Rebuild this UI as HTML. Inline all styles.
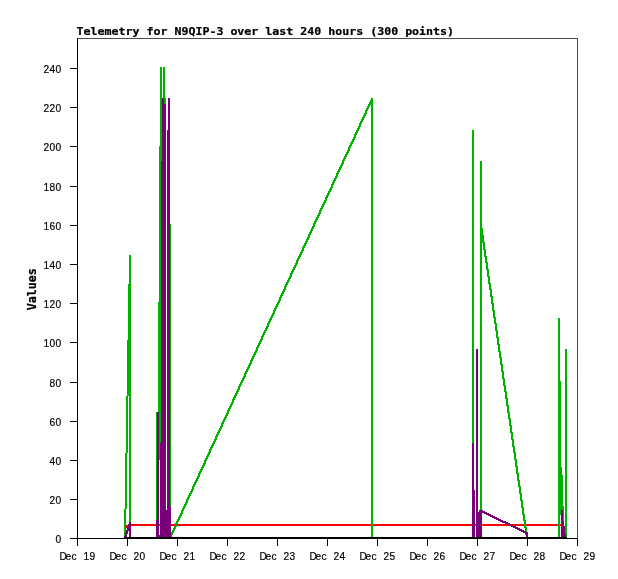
<!DOCTYPE html>
<html>
<head>
<meta charset="utf-8">
<title>Telemetry for N9QIP-3</title>
<style>
html, body { margin: 0; padding: 0; background: #ffffff; }
body { width: 618px; height: 579px; overflow: hidden; }
svg { display: block; }
text { fill: #000; white-space: pre; }
.s { font-family: "Liberation Sans", "DejaVu Sans", sans-serif; font-size: 10.2px; stroke: #000; stroke-width: 0.18px; }
.b { font-family: "DejaVu Sans Mono", "Liberation Mono", monospace; font-size: 11.63px; font-weight: bold; stroke: #000; stroke-width: 0.25px; }
</style>
</head>
<body>
<svg width="618" height="579" viewBox="0 0 618 579">
<rect x="0" y="0" width="618" height="579" fill="#ffffff"/>
<g shape-rendering="crispEdges">
<path fill="#ff0000" d="M131 524h25v2h-25zM159 524h1v2h-1zM171 524h4v2h-4zM177 524h194v2h-194zM373 524h99v2h-99zM475 524h1v2h-1zM482 524h25v1h-25zM512 524h12v1h-12zM526 524h32v2h-32zM560 524h1v2h-1zM126 525h2v2h-2zM482 525h27v1h-27zM514 525h10v1h-10zM126 527h1v1h-1z"/>
<path fill="#00b200" d="M160 67h2v79h-2zM163 67h2v31h-2zM164 98h2v6h-2zM371 98h2v2h-2zM370 100h3v2h-3zM369 102h4v2h-4zM368 104h5v1h-5zM368 105h2v1h-2zM371 105h2v432h-2zM367 106h3v1h-3zM367 107h2v1h-2zM366 108h3v1h-3zM366 109h2v1h-2zM365 110h3v1h-3zM365 111h2v2h-2zM364 113h3v1h-3zM364 114h2v1h-2zM363 115h3v1h-3zM363 116h2v1h-2zM362 117h3v1h-3zM362 118h2v1h-2zM361 119h3v1h-3zM361 120h2v1h-2zM360 121h3v1h-3zM360 122h2v1h-2zM359 123h3v1h-3zM359 124h2v2h-2zM358 126h3v1h-3zM358 127h2v1h-2zM357 128h3v1h-3zM357 129h2v1h-2zM356 130h3v1h-3zM472 130h2v313h-2zM356 131h2v1h-2zM355 132h3v1h-3zM355 133h2v1h-2zM354 134h3v1h-3zM354 135h2v2h-2zM353 137h3v1h-3zM353 138h2v1h-2zM352 139h3v1h-3zM352 140h2v1h-2zM351 141h3v1h-3zM351 142h2v1h-2zM350 143h3v1h-3zM350 144h2v1h-2zM349 145h3v1h-3zM159 146h3v15h-3zM349 146h2v1h-2zM348 147h3v1h-3zM348 148h2v2h-2zM347 150h3v1h-3zM347 151h2v1h-2zM346 152h3v1h-3zM346 153h2v1h-2zM345 154h3v1h-3zM345 155h2v1h-2zM344 156h3v1h-3zM344 157h2v1h-2zM343 158h3v1h-3zM343 159h2v1h-2zM342 160h3v1h-3zM159 161h2v141h-2zM342 161h2v2h-2zM480 161h2v67h-2zM341 163h3v1h-3zM341 164h2v1h-2zM340 165h3v1h-3zM340 166h2v1h-2zM339 167h3v1h-3zM339 168h2v1h-2zM338 169h3v1h-3zM338 170h2v1h-2zM337 171h3v1h-3zM337 172h2v1h-2zM336 173h3v1h-3zM336 174h2v2h-2zM335 176h3v1h-3zM335 177h2v1h-2zM334 178h3v1h-3zM334 179h2v1h-2zM333 180h3v1h-3zM333 181h2v1h-2zM332 182h3v1h-3zM332 183h2v1h-2zM331 184h3v1h-3zM331 185h2v2h-2zM330 187h3v1h-3zM330 188h2v1h-2zM329 189h3v1h-3zM329 190h2v1h-2zM328 191h3v1h-3zM328 192h2v1h-2zM327 193h3v1h-3zM327 194h2v1h-2zM326 195h3v1h-3zM326 196h2v1h-2zM325 197h3v1h-3zM325 198h2v2h-2zM324 200h3v1h-3zM324 201h2v1h-2zM323 202h3v1h-3zM323 203h2v1h-2zM322 204h3v1h-3zM322 205h2v1h-2zM321 206h3v1h-3zM321 207h2v1h-2zM320 208h3v1h-3zM320 209h2v1h-2zM319 210h3v1h-3zM319 211h2v2h-2zM318 213h3v1h-3zM318 214h2v1h-2zM317 215h3v1h-3zM317 216h2v1h-2zM316 217h3v1h-3zM316 218h2v1h-2zM315 219h3v1h-3zM315 220h2v1h-2zM314 221h3v1h-3zM314 222h2v1h-2zM313 223h3v1h-3zM170 224h1v282h-1zM313 224h2v2h-2zM312 226h3v1h-3zM312 227h2v1h-2zM311 228h3v1h-3zM480 228h3v7h-3zM311 229h2v1h-2zM310 230h3v1h-3zM310 231h2v1h-2zM309 232h3v1h-3zM309 233h2v1h-2zM308 234h3v1h-3zM308 235h2v2h-2zM480 235h4v7h-4zM307 237h3v1h-3zM307 238h2v1h-2zM306 239h3v1h-3zM306 240h2v1h-2zM305 241h3v1h-3zM305 242h2v1h-2zM480 242h5v1h-5zM304 243h3v1h-3zM480 243h2v267h-2zM483 243h2v6h-2zM304 244h2v1h-2zM303 245h3v1h-3zM303 246h2v1h-2zM302 247h3v1h-3zM302 248h2v2h-2zM483 249h3v1h-3zM301 250h3v1h-3zM484 250h2v6h-2zM301 251h2v1h-2zM300 252h3v1h-3zM300 253h2v1h-2zM299 254h3v1h-3zM129 255h2v29h-2zM299 255h2v1h-2zM298 256h3v1h-3zM484 256h3v1h-3zM298 257h2v1h-2zM485 257h2v5h-2zM297 258h3v1h-3zM297 259h2v1h-2zM296 260h3v1h-3zM296 261h2v2h-2zM485 262h3v1h-3zM295 263h3v1h-3zM486 263h2v6h-2zM295 264h2v1h-2zM294 265h3v1h-3zM294 266h2v1h-2zM293 267h3v1h-3zM293 268h2v1h-2zM292 269h3v1h-3zM486 269h3v1h-3zM292 270h2v1h-2zM487 270h2v6h-2zM291 271h3v1h-3zM291 272h2v1h-2zM290 273h3v1h-3zM290 274h2v2h-2zM289 276h3v1h-3zM487 276h3v1h-3zM289 277h2v1h-2zM488 277h2v6h-2zM288 278h3v1h-3zM288 279h2v1h-2zM287 280h3v1h-3zM287 281h2v1h-2zM286 282h3v1h-3zM286 283h2v1h-2zM488 283h3v1h-3zM128 284h3v56h-3zM285 284h3v1h-3zM489 284h2v5h-2zM285 285h2v1h-2zM284 286h3v1h-3zM284 287h2v2h-2zM283 289h3v1h-3zM489 289h3v1h-3zM283 290h2v1h-2zM490 290h2v6h-2zM282 291h3v1h-3zM282 292h2v1h-2zM281 293h3v1h-3zM281 294h2v1h-2zM280 295h3v1h-3zM280 296h2v1h-2zM490 296h3v1h-3zM279 297h3v1h-3zM491 297h2v6h-2zM279 298h2v2h-2zM278 300h3v1h-3zM278 301h2v1h-2zM158 302h3v110h-3zM277 302h3v1h-3zM277 303h2v1h-2zM491 303h3v1h-3zM276 304h3v1h-3zM492 304h2v6h-2zM276 305h2v1h-2zM275 306h3v1h-3zM275 307h2v1h-2zM274 308h3v1h-3zM274 309h2v1h-2zM273 310h3v1h-3zM492 310h3v1h-3zM273 311h2v2h-2zM493 311h2v6h-2zM272 313h3v1h-3zM272 314h2v1h-2zM271 315h3v1h-3zM271 316h2v1h-2zM270 317h3v1h-3zM493 317h3v1h-3zM270 318h2v1h-2zM494 318h2v5h-2zM558 318h2v63h-2zM269 319h3v1h-3zM269 320h2v1h-2zM268 321h3v1h-3zM268 322h2v1h-2zM267 323h3v1h-3zM494 323h3v1h-3zM267 324h2v2h-2zM495 324h2v6h-2zM266 326h3v1h-3zM266 327h2v1h-2zM265 328h3v1h-3zM265 329h2v1h-2zM264 330h3v1h-3zM495 330h3v1h-3zM264 331h2v1h-2zM496 331h2v6h-2zM263 332h3v1h-3zM263 333h2v1h-2zM262 334h3v1h-3zM262 335h2v1h-2zM261 336h3v1h-3zM261 337h2v2h-2zM496 337h3v1h-3zM497 338h2v6h-2zM260 339h3v1h-3zM127 340h4v56h-4zM260 340h2v1h-2zM259 341h3v1h-3zM259 342h2v1h-2zM258 343h3v1h-3zM258 344h2v1h-2zM497 344h3v1h-3zM257 345h3v1h-3zM498 345h2v6h-2zM257 346h2v1h-2zM256 347h3v1h-3zM256 348h2v2h-2zM565 349h2v185h-2zM255 350h3v1h-3zM255 351h2v1h-2zM498 351h3v1h-3zM254 352h3v1h-3zM499 352h2v5h-2zM254 353h2v1h-2zM253 354h3v1h-3zM253 355h2v1h-2zM252 356h3v1h-3zM252 357h2v1h-2zM499 357h3v1h-3zM251 358h3v1h-3zM500 358h2v6h-2zM251 359h2v1h-2zM250 360h3v1h-3zM250 361h2v2h-2zM249 363h3v1h-3zM249 364h2v1h-2zM500 364h3v1h-3zM248 365h3v1h-3zM501 365h2v6h-2zM248 366h2v1h-2zM247 367h3v1h-3zM247 368h2v1h-2zM246 369h3v1h-3zM246 370h2v1h-2zM245 371h3v1h-3zM501 371h3v1h-3zM245 372h2v1h-2zM502 372h2v6h-2zM244 373h3v1h-3zM244 374h2v2h-2zM243 376h3v1h-3zM243 377h2v1h-2zM242 378h3v1h-3zM502 378h3v1h-3zM242 379h2v1h-2zM503 379h2v6h-2zM241 380h3v1h-3zM241 381h2v1h-2zM558 381h3v86h-3zM240 382h3v1h-3zM240 383h2v1h-2zM239 384h3v1h-3zM239 385h2v1h-2zM503 385h3v1h-3zM238 386h3v1h-3zM504 386h2v5h-2zM238 387h2v2h-2zM237 389h3v1h-3zM237 390h2v1h-2zM236 391h3v1h-3zM504 391h3v1h-3zM236 392h2v1h-2zM505 392h2v6h-2zM235 393h3v1h-3zM235 394h2v1h-2zM234 395h3v1h-3zM126 396h2v57h-2zM129 396h2v126h-2zM234 396h2v1h-2zM233 397h3v1h-3zM233 398h2v1h-2zM505 398h3v1h-3zM232 399h3v1h-3zM506 399h2v6h-2zM232 400h2v2h-2zM231 402h3v1h-3zM231 403h2v1h-2zM230 404h3v1h-3zM230 405h2v1h-2zM506 405h3v1h-3zM229 406h3v1h-3zM507 406h2v6h-2zM229 407h2v1h-2zM228 408h3v1h-3zM228 409h2v1h-2zM227 410h3v1h-3zM227 411h2v2h-2zM156 412h1v108h-1zM159 412h2v31h-2zM507 412h3v1h-3zM226 413h3v1h-3zM508 413h2v5h-2zM226 414h2v1h-2zM225 415h3v1h-3zM225 416h2v1h-2zM224 417h3v1h-3zM224 418h2v1h-2zM508 418h3v1h-3zM223 419h3v1h-3zM509 419h2v6h-2zM223 420h2v1h-2zM222 421h3v1h-3zM222 422h2v1h-2zM221 423h3v1h-3zM221 424h2v2h-2zM509 425h3v1h-3zM220 426h3v1h-3zM510 426h2v6h-2zM220 427h2v1h-2zM219 428h3v1h-3zM219 429h2v1h-2zM218 430h3v1h-3zM218 431h2v1h-2zM217 432h3v1h-3zM510 432h3v1h-3zM217 433h2v1h-2zM511 433h2v6h-2zM216 434h3v1h-3zM216 435h2v1h-2zM215 436h3v1h-3zM215 437h2v2h-2zM214 439h3v1h-3zM511 439h3v1h-3zM214 440h2v1h-2zM512 440h2v6h-2zM213 441h3v1h-3zM213 442h2v1h-2zM159 443h1v17h-1zM212 443h3v1h-3zM212 444h2v1h-2zM211 445h3v1h-3zM211 446h2v1h-2zM512 446h3v1h-3zM210 447h3v1h-3zM513 447h2v5h-2zM210 448h2v1h-2zM209 449h3v1h-3zM209 450h2v2h-2zM208 452h3v1h-3zM513 452h3v1h-3zM125 453h2v56h-2zM208 453h2v1h-2zM514 453h2v6h-2zM207 454h3v1h-3zM207 455h2v1h-2zM206 456h3v1h-3zM206 457h2v1h-2zM205 458h3v1h-3zM205 459h2v1h-2zM514 459h3v1h-3zM204 460h3v1h-3zM515 460h2v6h-2zM204 461h2v2h-2zM203 463h3v1h-3zM203 464h2v1h-2zM202 465h3v1h-3zM202 466h2v1h-2zM515 466h3v1h-3zM201 467h3v1h-3zM516 467h2v6h-2zM558 467h4v8h-4zM201 468h2v1h-2zM200 469h3v1h-3zM200 470h2v1h-2zM199 471h3v1h-3zM199 472h2v1h-2zM198 473h3v1h-3zM516 473h3v1h-3zM198 474h2v2h-2zM517 474h2v6h-2zM558 475h5v31h-5zM197 476h3v1h-3zM197 477h2v1h-2zM196 478h3v1h-3zM196 479h2v1h-2zM195 480h3v1h-3zM517 480h3v1h-3zM195 481h2v1h-2zM518 481h2v5h-2zM194 482h3v1h-3zM194 483h2v1h-2zM193 484h3v1h-3zM193 485h2v1h-2zM192 486h3v1h-3zM518 486h3v1h-3zM192 487h2v2h-2zM519 487h2v6h-2zM191 489h3v1h-3zM191 490h2v1h-2zM190 491h3v1h-3zM190 492h2v1h-2zM189 493h3v1h-3zM519 493h3v1h-3zM189 494h2v1h-2zM520 494h2v6h-2zM188 495h3v1h-3zM188 496h2v1h-2zM187 497h3v1h-3zM187 498h2v1h-2zM186 499h3v1h-3zM186 500h2v2h-2zM520 500h3v1h-3zM521 501h2v6h-2zM185 502h3v1h-3zM185 503h2v1h-2zM184 504h3v1h-3zM184 505h2v1h-2zM183 506h3v1h-3zM558 506h6v4h-6zM183 507h2v1h-2zM521 507h3v1h-3zM182 508h3v1h-3zM522 508h2v6h-2zM124 509h2v24h-2zM182 509h2v1h-2zM181 510h3v1h-3zM558 510h3v5h-3zM563 510h1v12h-1zM181 511h2v2h-2zM180 513h3v1h-3zM180 514h2v1h-2zM522 514h3v1h-3zM179 515h3v1h-3zM523 515h2v5h-2zM558 515h2v22h-2zM179 516h2v1h-2zM178 517h3v1h-3zM178 518h2v1h-2zM177 519h3v1h-3zM177 520h2v1h-2zM523 520h3v1h-3zM176 521h3v1h-3zM524 521h2v6h-2zM176 522h2v1h-2zM175 523h3v1h-3zM175 524h2v2h-2zM174 526h3v1h-3zM174 527h2v1h-2zM524 527h3v1h-3zM173 528h3v1h-3zM525 528h2v3h-2zM173 529h2v1h-2zM172 530h3v1h-3zM172 531h2v1h-2zM526 531h1v1h-1zM171 532h3v1h-3zM124 533h1v3h-1zM171 533h2v2h-2zM525 534h1v1h-1zM566 534h1v3h-1zM171 535h1v2h-1z"/>
<path fill="#780078" d="M162 98h2v6h-2zM168 98h2v32h-2zM162 104h4v57h-4zM167 130h3v376h-3zM161 161h5v282h-5zM476 349h2v163h-2zM157 412h2v108h-2zM160 443h6v67h-6zM472 443h2v47h-2zM472 490h3v47h-3zM167 506h4v4h-4zM160 510h11v25h-11zM479 510h4v1h-4zM561 510h2v12h-2zM479 511h6v1h-6zM476 512h11v1h-11zM476 513h6v24h-6zM484 513h5v1h-5zM486 514h5v1h-5zM488 515h5v1h-5zM490 516h5v1h-5zM492 517h5v1h-5zM494 518h5v1h-5zM496 519h5v1h-5zM156 520h3v15h-3zM498 520h5v1h-5zM500 521h6v1h-6zM129 522h2v2h-2zM502 522h6v1h-6zM561 522h3v4h-3zM505 523h5v1h-5zM128 524h3v3h-3zM507 524h5v1h-5zM509 525h5v1h-5zM511 526h5v1h-5zM561 526h4v8h-4zM127 527h4v3h-4zM513 527h5v1h-5zM515 528h5v1h-5zM517 529h5v1h-5zM126 530h5v1h-5zM519 530h5v1h-5zM126 531h2v2h-2zM129 531h2v6h-2zM521 531h5v1h-5zM523 532h5v1h-5zM125 533h3v1h-3zM525 533h3v1h-3zM125 534h2v2h-2zM526 534h2v3h-2zM561 534h5v3h-5zM156 535h15v2h-15zM124 536h3v1h-3z"/>
<path fill="#4c4c4c" d="M78 38h500v1h-500zM577 39h1v499h-1z"/>
<path fill="#000000" d="M77 38h1v30h-1zM70 68h8v1h-8zM77 69h1v38h-1zM70 107h8v1h-8zM77 108h1v38h-1zM70 146h8v1h-8zM77 147h1v39h-1zM70 186h8v1h-8zM77 187h1v38h-1zM70 225h8v1h-8zM77 226h1v38h-1zM70 264h8v1h-8zM77 265h1v38h-1zM70 303h8v1h-8zM77 304h1v38h-1zM70 342h8v1h-8zM77 343h1v39h-1zM70 382h8v1h-8zM77 383h1v38h-1zM70 421h8v1h-8zM77 422h1v38h-1zM70 460h8v1h-8zM77 461h1v38h-1zM70 499h8v1h-8zM77 500h1v38h-1zM124 537h443v1h-443zM70 538h508v1h-508zM77 539h1v7h-1zM127 539h1v7h-1zM177 539h1v7h-1zM227 539h1v7h-1zM277 539h1v7h-1zM327 539h1v7h-1zM377 539h1v7h-1zM427 539h1v7h-1zM477 539h1v7h-1zM527 539h1v7h-1zM577 539h1v7h-1z"/>
</g>
<g>
<text class="b" transform="translate(76.6 35) scale(1 0.97)" x="0" y="0">Telemetry for N9QIP-3 over last 240 hours (300 points)</text>
<text class="b" transform="translate(35.7 310.3) rotate(-90) scale(1 1.08)" x="0" y="0">Values</text>
<text class="s" transform="translate(0 543) scale(1 1.08)" x="55.4" y="0">0</text>
<text class="s" transform="translate(0 504) scale(1 1.08)" x="49.4 55.4" y="0">20</text>
<text class="s" transform="translate(0 465) scale(1 1.08)" x="49.4 55.4" y="0">40</text>
<text class="s" transform="translate(0 426) scale(1 1.08)" x="49.4 55.4" y="0">60</text>
<text class="s" transform="translate(0 387) scale(1 1.08)" x="49.4 55.4" y="0">80</text>
<text class="s" transform="translate(0 347) scale(1 1.08)" x="43.4 49.4 55.4" y="0">100</text>
<text class="s" transform="translate(0 308) scale(1 1.08)" x="43.4 49.4 55.4" y="0">120</text>
<text class="s" transform="translate(0 269) scale(1 1.08)" x="43.4 49.4 55.4" y="0">140</text>
<text class="s" transform="translate(0 230) scale(1 1.08)" x="43.4 49.4 55.4" y="0">160</text>
<text class="s" transform="translate(0 191) scale(1 1.08)" x="43.4 49.4 55.4" y="0">180</text>
<text class="s" transform="translate(0 151) scale(1 1.08)" x="43.4 49.4 55.4" y="0">200</text>
<text class="s" transform="translate(0 112) scale(1 1.08)" x="43.4 49.4 55.4" y="0">220</text>
<text class="s" transform="translate(0 73) scale(1 1.08)" x="43.4 49.4 55.4" y="0">240</text>
<text class="s" transform="translate(0 560) scale(1 1.08)" x="59.4 65.4 71.4 77.4 83.4 89.4" y="0">Dec 19</text>
<text class="s" transform="translate(0 560) scale(1 1.08)" x="109.4 115.4 121.4 127.4 133.4 139.4" y="0">Dec 20</text>
<text class="s" transform="translate(0 560) scale(1 1.08)" x="159.4 165.4 171.4 177.4 183.4 189.4" y="0">Dec 21</text>
<text class="s" transform="translate(0 560) scale(1 1.08)" x="209.4 215.4 221.4 227.4 233.4 239.4" y="0">Dec 22</text>
<text class="s" transform="translate(0 560) scale(1 1.08)" x="259.4 265.4 271.4 277.4 283.4 289.4" y="0">Dec 23</text>
<text class="s" transform="translate(0 560) scale(1 1.08)" x="309.4 315.4 321.4 327.4 333.4 339.4" y="0">Dec 24</text>
<text class="s" transform="translate(0 560) scale(1 1.08)" x="359.4 365.4 371.4 377.4 383.4 389.4" y="0">Dec 25</text>
<text class="s" transform="translate(0 560) scale(1 1.08)" x="409.4 415.4 421.4 427.4 433.4 439.4" y="0">Dec 26</text>
<text class="s" transform="translate(0 560) scale(1 1.08)" x="459.4 465.4 471.4 477.4 483.4 489.4" y="0">Dec 27</text>
<text class="s" transform="translate(0 560) scale(1 1.08)" x="509.4 515.4 521.4 527.4 533.4 539.4" y="0">Dec 28</text>
<text class="s" transform="translate(0 560) scale(1 1.08)" x="559.4 565.4 571.4 577.4 583.4 589.4" y="0">Dec 29</text>
</g>
</svg>
</body>
</html>
